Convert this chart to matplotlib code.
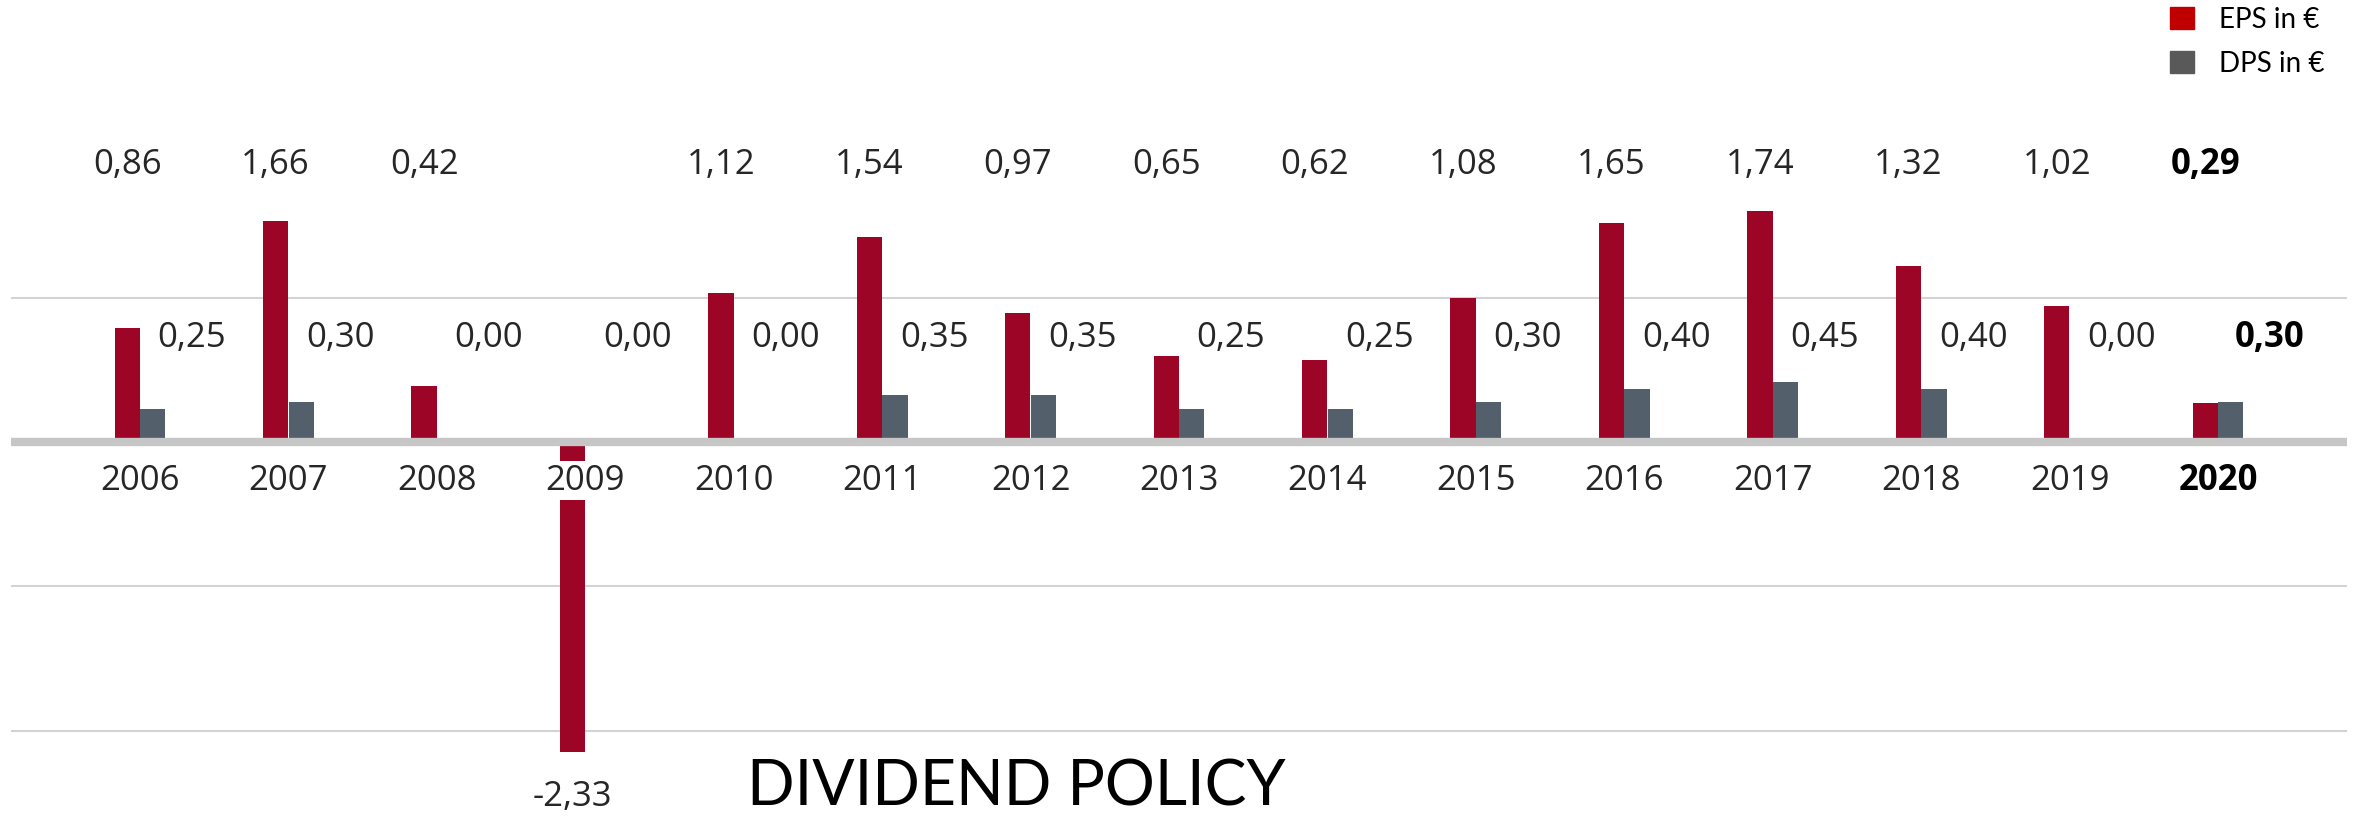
import numpy as np
import matplotlib.pyplot as plt
from matplotlib.patches import Patch

# Data
years = [2006, 2007, 2008, 2009, 2010, 2011, 2012, 2013, 2014, 2015, 2016, 2017, 2018, 2019, 2020]
eps = [0.86, 1.66, 0.42, -2.33, 1.12, 1.54, 0.97, 0.65, 0.62, 1.08, 1.65, 1.74, 1.32, 1.02, 0.29]
dps = [0.25, 0.30, 0.00, 0.00, 0.00, 0.35, 0.35, 0.25, 0.25, 0.30, 0.40, 0.45, 0.40, 0.00, 0.30]
highlight_year = 2020


def fmt(v):
    return f"{v:.2f}".replace(".", ",")


eps_color = "#9d0527"
dps_color = "#535f6a"
text_color = "#262626"

plt.rcParams["font.family"] = ["Open Sans", "DejaVu Sans"]

fig = plt.figure(figsize=(23.57, 8.18), dpi=100)
ax = fig.add_axes([11 / 2357, 0, 2336 / 2357, 1])
ax.set_xlim(-0.869, 14.869)
ax.set_ylim(-376 / 133, 442 / 133)
ax.axis("off")

x = np.arange(len(years))
w = 0.17
off = 0.086

# gridlines
grid_step = 1.085
for g in [grid_step, -grid_step, -2 * grid_step]:
    ax.axhline(g, color="#d3d3d3", lw=1.5, zorder=0)

ax.bar(x - off, eps, w, color=eps_color, zorder=2, linewidth=0)
ax.bar(x + off, dps, w, color=dps_color, zorder=2, linewidth=0)
ax.axhline(0, color="#c6c6c6", lw=6, zorder=3)

fs = 25
for i, yr in enumerate(years):
    bold = "bold" if yr == highlight_year else "normal"
    col = "black" if yr == highlight_year else text_color
    if eps[i] >= 0:
        ax.text(x[i] - off, 2.08, fmt(eps[i]), ha="center", va="center",
                fontsize=fs, color=col, fontweight=bold)
    else:
        ax.text(x[i] - off, eps[i] - 0.34, fmt(eps[i]), ha="center", va="center",
                fontsize=fs, color=col, fontweight=bold)
    ax.text(x[i] + 0.35, 0.78, fmt(dps[i]), ha="center", va="center",
            fontsize=fs, color=col, fontweight=bold)
    ax.text(x[i], -0.29, str(yr), ha="center", va="center", fontsize=fs,
            color=col, fontweight=bold, zorder=4,
            bbox=dict(facecolor="white", edgecolor="none", pad=2))

fig.text(0.4313, 0.002, "DIVIDEND POLICY", ha="center", va="bottom",
         fontsize=45, family="Lato", color="black")

handles = [Patch(color="#c00000", label="EPS in €"),
           Patch(color="#595959", label="DPS in €")]
fig.legend(handles=handles, loc="upper left", bbox_to_anchor=(2170 / 2357, 0.992),
           frameon=False, prop={"family": "Lato", "size": 20},
           handlelength=0.85, handleheight=0.85, handletextpad=0.9,
           labelspacing=0.65, borderpad=0, borderaxespad=0)

fig.savefig("out.png", dpi=100)
